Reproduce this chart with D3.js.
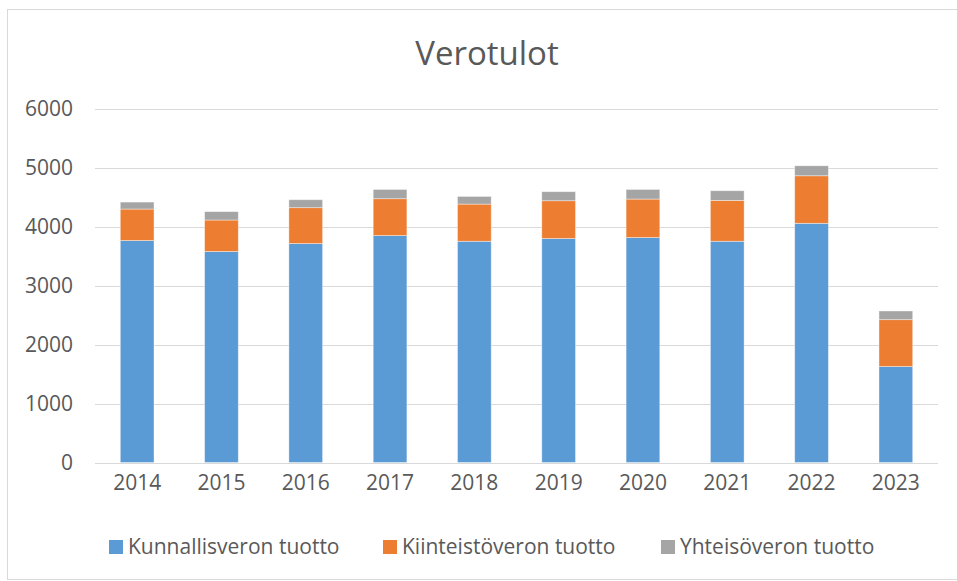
<!DOCTYPE html>
<html>
<head>
<meta charset="utf-8">
<script src="https://cdn.jsdelivr.net/npm/d3@7"></script>
<style>
  html, body { margin: 0; background: #fff; overflow: hidden; }
  svg { display: block; }
  svg text { font-family: "Open Sans", sans-serif; fill: #595959; }
</style>
</head>
<body>
<svg id="chart" width="957" height="581"></svg>
<script>
// values
var years = ["2014", "2015", "2016", "2017", "2018", "2019", "2020", "2021", "2022", "2023"];
var kunnallisvero = [3762, 3576, 3711, 3846, 3750, 3796, 3813, 3750, 4054, 1627];
var kiinteistovero = [534, 534, 608, 625, 630, 641, 652, 693, 806, 794];
var yhteisovero = [118, 142, 135, 157, 130, 153, 163, 163, 169, 147];
var seriesNames = ["Kunnallisveron tuotto", "Kiinteistöveron tuotto", "Yhteisöveron tuotto"];
var colors = ["#5B9BD5", "#ED7D31", "#A5A5A5"];
var yTicks = [0, 1000, 2000, 3000, 4000, 5000, 6000];

var rows = years.map(function(y, i) {
    return { year: y, k0: kunnallisvero[i], k1: kiinteistovero[i], k2: yhteisovero[i] };
});
var stack = d3.stack().keys(["k0", "k1", "k2"])(rows);

var svg = d3.select("#chart");

// chart border (right edge falls outside the picture)
svg.append("rect")
    .attr("x", 7.5).attr("y", 9.5)
    .attr("width", 960).attr("height", 570)
    .attr("fill", "#fff").attr("stroke", "#D9D9D9");

var x = d3.scaleBand().domain(years).range([95, 938]).paddingInner(0.6).paddingOuter(0.3);
var y = d3.scaleLinear().domain([0, 6000]).range([462.5, 108.5]);

// title
svg.append("text")
    .attr("x", 487).attr("y", 65)
    .attr("text-anchor", "middle")
    .style("font-size", "33px")
    .text("Verotulot");

// gridlines
svg.append("g").selectAll("line")
    .data(yTicks)
    .join("line")
    .attr("x1", 95).attr("x2", 938)
    .attr("y1", function(d) { return Math.round(y(d)) + 0.5; })
    .attr("y2", function(d) { return Math.round(y(d)) + 0.5; })
    .attr("stroke", "#D9D9D9").attr("stroke-width", 1.2);

// y axis labels
var yAxis = svg.append("g")
    .attr("transform", "translate(73,0)")
    .call(d3.axisLeft(y).tickValues(yTicks).tickFormat(d3.format("d")).tickSize(0).tickPadding(0));
yAxis.select(".domain").remove();
yAxis.selectAll("text").style("font-size", "21px").attr("fill", "#595959");

// bars
svg.append("g").selectAll("g")
    .data(stack)
    .join("g")
    .attr("fill", function(d, i) { return colors[i]; })
    .selectAll("rect")
    .data(function(d) { return d; })
    .join("rect")
    .attr("x", function(d) { return x(d.data.year); })
    .attr("y", function(d) { return y(d[1]); })
    .attr("width", x.bandwidth())
    .attr("height", function(d) { return y(d[0]) - y(d[1]); })
    .attr("stroke", "#fff").attr("stroke-opacity", 0.5).attr("stroke-width", 0.8);

// x axis labels
var xAxis = svg.append("g")
    .attr("transform", "translate(0,462)")
    .call(d3.axisBottom(x).tickSize(0).tickPadding(13));
xAxis.select(".domain").remove();
xAxis.selectAll("text").style("font-size", "21px").attr("fill", "#595959");

// legend
var legendX = [109, 383, 661];
var legend = svg.append("g").selectAll("g")
    .data(seriesNames)
    .join("g")
    .attr("transform", function(d, i) { return "translate(" + legendX[i] + ",547)"; });
legend.append("rect")
    .attr("x", 0).attr("y", -7)
    .attr("width", 14).attr("height", 14)
    .attr("fill", function(d, i) { return colors[i]; });
legend.append("text")
    .attr("x", 19).attr("dy", "0.35em")
    .style("font-size", "21px")
    .text(function(d) { return d; });
</script>
</body>
</html>
